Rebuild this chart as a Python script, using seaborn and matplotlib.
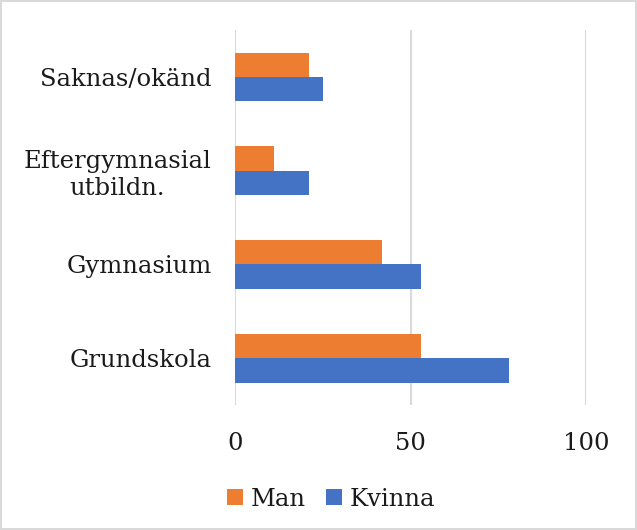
import matplotlib
matplotlib.use("Agg")
import matplotlib.pyplot as plt
import seaborn as sns
import pandas as pd

categories = ["Saknas/okänd", "Eftergymnasial\nutbildn.", "Gymnasium", "Grundskola"]
man = [21, 11, 42, 53]
kvinna = [25, 21, 53, 78]
series = ["Man", "Kvinna"]
colors = ["#ED7D31", "#4472C4"]

df = pd.DataFrame({
    "cat": categories * 2,
    "value": man + kvinna,
    "sex": ["Man"] * len(categories) + ["Kvinna"] * len(categories),
})

sns.set_style("white")
plt.rcParams["font.family"] = ["DejaVu Serif", "Liberation Serif"]

fig = plt.figure(figsize=(6.37, 5.30), dpi=100)
fig.patch.set_edgecolor("#d9d9d9")
fig.patch.set_linewidth(1.5)
ax = fig.add_axes([235 / 637, 125 / 530, (586 - 235) / 637, 375 / 530])

sns.barplot(data=df, y="cat", x="value", hue="sex", order=categories,
            hue_order=series, palette=colors, orient="h", width=0.52,
            saturation=1, linewidth=0, ax=ax, legend=True)

ax.set_xlim(0, 100)
ax.set_xticks([0, 50, 100])
ax.xaxis.grid(True, color="#d9d9d9", linewidth=1.5)
ax.set_axisbelow(True)
for s in ax.spines.values():
    s.set_visible(False)
ax.set_xlabel("")
ax.set_ylabel("")
ax.tick_params(axis="both", length=0, labelsize=17.5, labelcolor="#1a1a1a")
ax.tick_params(axis="x", pad=19.5)
ax.tick_params(axis="y", pad=17)
for lbl in ax.get_yticklabels():
    lbl.set_horizontalalignment("right")
    lbl.set_multialignment("center")

h, l = ax.get_legend_handles_labels()
ax.get_legend().remove()
fig.legend(h, l, loc="center", bbox_to_anchor=(331 / 637, 1 - 499 / 530), ncol=2,
           frameon=False, fontsize=17.5, handlelength=0.65, handleheight=0.65,
           handletextpad=0.3, columnspacing=0.85, labelcolor="#1a1a1a")

fig.savefig("out.png", dpi=100, edgecolor=fig.get_edgecolor())
